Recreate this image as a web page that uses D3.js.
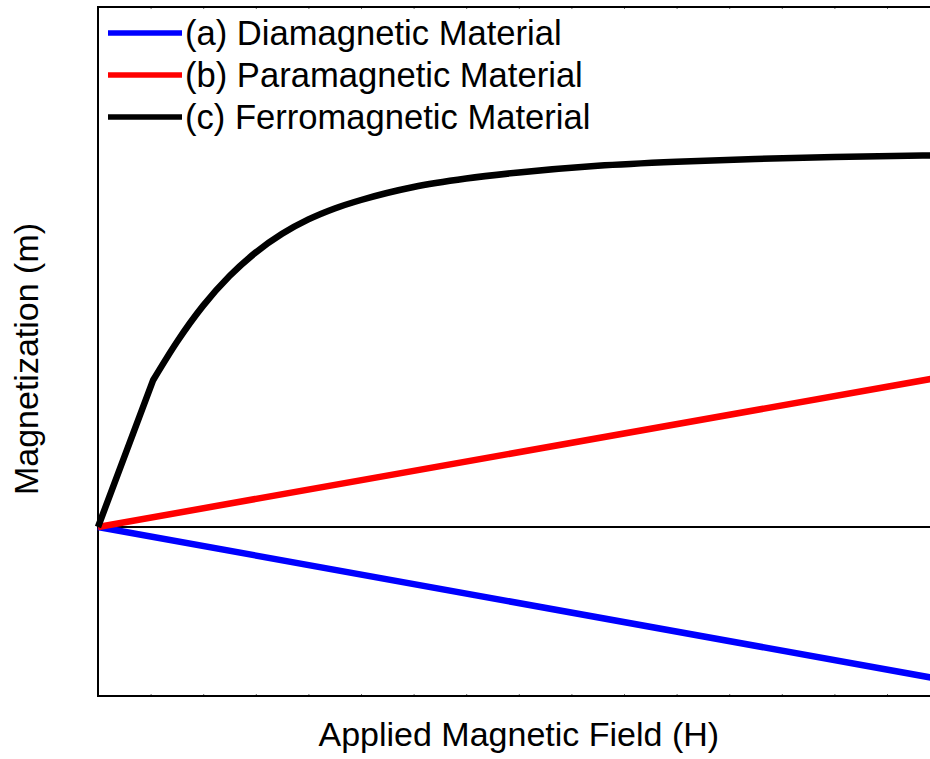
<!DOCTYPE html>
<html>
<head>
<meta charset="utf-8">
<script src="https://cdn.jsdelivr.net/npm/d3@7/dist/d3.min.js"></script>
<style>
  html, body { margin: 0; padding: 0; background: #fff; overflow: hidden; }
  svg { display: block; }
  text { font-family: "Liberation Sans", Arial, sans-serif; fill: #000; }
</style>
</head>
<body>
<div id="chart"></div>
<script>
// Applied field H (arbitrary units) and magnetization m for three material types
const fieldDia = [0, 16];
const magDia = [0, -0.9];

const fieldPara = [0, 16];
const magPara = [0, 0.885];

const fieldFerro = [0, 1.05, 1.5, 2.0, 2.5, 3.0, 3.5, 4.0, 4.5, 5.0, 6.0, 7.0, 8.0, 9.5, 11, 12.5, 14, 16];
const magFerro = [0, 0.87, 1.095, 1.31, 1.485, 1.625, 1.735, 1.82, 1.885, 1.935, 2.012, 2.062, 2.098, 2.138, 2.162, 2.178, 2.19, 2.199];

const seriesNames = ["(a) Diamagnetic Material", "(b) Paramagnetic Material", "(c) Ferromagnetic Material"];
const seriesColors = ["#0000ff", "#ff0000", "#000000"];

const xTickValues = d3.range(0, 17, 1);

const width = 960, height = 759;
const plot = { left: 98, top: 7, right: 939.6, bottom: 696 };
const fontSize = 34;
const legendFontSize = 34.6;
const lineWidth = 6.5;
const legendLineWidth = 5.5;

const svg = d3.select("#chart").append("svg")
  .attr("width", width)
  .attr("height", height);

const x = d3.scaleLinear().domain([0, 16]).range([plot.left, plot.right]);
const y = d3.scaleLinear().domain([-1, 3.077]).range([plot.bottom, plot.top]);

// faint inward ticks on top and bottom edges
svg.append("g")
  .attr("transform", `translate(0,${plot.bottom})`)
  .call(d3.axisTop(x).tickValues(xTickValues).tickSize(2).tickFormat(""))
  .call(g => g.select(".domain").remove())
  .call(g => g.selectAll("line").attr("stroke", "#666").attr("stroke-width", 1));
svg.append("g")
  .attr("transform", `translate(0,${plot.top})`)
  .call(d3.axisBottom(x).tickValues(xTickValues).tickSize(2).tickFormat(""))
  .call(g => g.select(".domain").remove())
  .call(g => g.selectAll("line").attr("stroke", "#666").attr("stroke-width", 1));

// frame
svg.append("rect")
  .attr("x", plot.left).attr("y", plot.top)
  .attr("width", plot.right - plot.left).attr("height", plot.bottom - plot.top)
  .attr("fill", "none").attr("stroke", "#000").attr("stroke-width", 2);

// zero-magnetization reference line
svg.append("line")
  .attr("x1", x(0)).attr("x2", x(16))
  .attr("y1", y(0)).attr("y2", y(0))
  .attr("stroke", "#000").attr("stroke-width", 2);

const straight = d3.line().x(d => x(d[0])).y(d => y(d[1]));
const smooth = d3.line().x(d => x(d[0])).y(d => y(d[1])).curve(d3.curveMonotoneX);

const dia = d3.zip(fieldDia, magDia);
const para = d3.zip(fieldPara, magPara);
const ferro = d3.zip(fieldFerro, magFerro);

// ferromagnetic curve: straight initial rise, then a smooth approach to saturation
const ferroPath = straight(ferro.slice(0, 2)) + smooth(ferro.slice(1)).replace(/^M/, "L");

const g = svg.append("g").attr("fill", "none").attr("stroke-width", lineWidth)
  .attr("stroke-linejoin", "round");
g.append("path").attr("d", straight(dia)).attr("stroke", seriesColors[0]);
g.append("path").attr("d", straight(para)).attr("stroke", seriesColors[1]);
g.append("path").attr("d", ferroPath).attr("stroke", seriesColors[2]);

// legend
const legend = svg.append("g");
const rowY = [33, 75, 117];
seriesNames.forEach((name, i) => {
  legend.append("line")
    .attr("x1", 108).attr("x2", 182)
    .attr("y1", rowY[i]).attr("y2", rowY[i])
    .attr("stroke", seriesColors[i]).attr("stroke-width", legendLineWidth);
  legend.append("text")
    .attr("x", 185).attr("y", rowY[i] + 12)
    .attr("font-size", legendFontSize)
    .text(name);
});

// axis titles
svg.append("text")
  .attr("x", (plot.left + plot.right) / 2).attr("y", 746)
  .attr("text-anchor", "middle")
  .attr("font-size", fontSize)
  .text("Applied Magnetic Field (H)");

svg.append("text")
  .attr("transform", `translate(38,359) rotate(-90)`)
  .attr("text-anchor", "middle")
  .attr("font-size", fontSize)
  .text("Magnetization (m)");
</script>
</body>
</html>
